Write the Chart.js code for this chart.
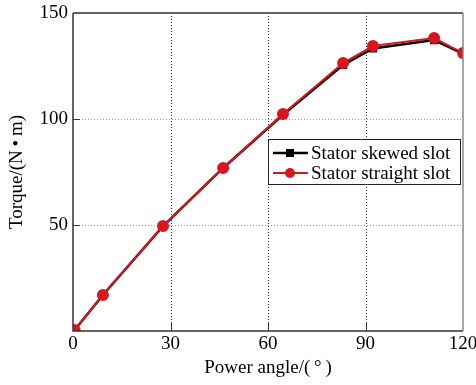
<!DOCTYPE html>
<html>
<head>
<meta charset="utf-8">
<script src="https://cdn.jsdelivr.net/npm/chart.js@4.4.0/dist/chart.umd.min.js"></script>
<style>
  html, body { margin: 0; padding: 0; background: #fff; }
  canvas { display: block; }
</style>
</head>
<body>
<canvas id="torque" width="476" height="385"></canvas>
<script>
// power angle (deg) and torque (N*m)
const angle = [0.5, 9.2, 27.7, 46.2, 64.6, 83.1, 92.3, 111.1, 120];
const skewedTorque = [0.5, 17.0, 49.5, 76.9, 102.0, 125.5, 133.3, 137.2, 130.8];
const straightTorque = [0.5, 17.0, 49.5, 76.9, 102.4, 126.4, 134.4, 138.2, 131.1];
const seriesNames = ['Stator skewed slot', 'Stator straight slot'];

const FONT = 'Liberation Serif, Times New Roman, serif';
const RED = '#d9161f';

const toPoints = ys => angle.map((a, i) => ({ x: a, y: ys[i] }));

// dotted grid behind the lines
const gridPlugin = {
  id: 'dottedGrid',
  beforeDatasetsDraw(chart) {
    const { ctx, chartArea: a, scales } = chart;
    ctx.save();
    ctx.lineWidth = 1;
    ctx.setLineDash([1, 2]);
    ctx.strokeStyle = '#333';
    ctx.beginPath();
    scales.x.ticks.forEach(t => {
      if (t.value <= 0 || t.value >= 120) return;
      const px = Math.round(scales.x.getPixelForValue(t.value)) + 0.5;
      ctx.moveTo(px, a.top); ctx.lineTo(px, a.bottom);
    });
    ctx.stroke();
    ctx.strokeStyle = '#999';
    ctx.beginPath();
    scales.y.ticks.forEach(t => {
      if (t.value <= 0 || t.value >= 150) return;
      const py = Math.round(scales.y.getPixelForValue(t.value)) + 0.5;
      ctx.moveTo(a.left, py); ctx.lineTo(a.right, py);
    });
    ctx.stroke();
    ctx.restore();
  }
};

// frame, inward tick marks and the boxed legend inside the plot
const framePlugin = {
  id: 'frame',
  afterDraw(chart) {
    const { ctx, chartArea: a, scales } = chart;
    ctx.save();
    ctx.lineWidth = 1.5;
    ctx.strokeStyle = '#333';
    ctx.beginPath();
    ctx.moveTo(a.left, a.top); ctx.lineTo(a.right, a.top);
    ctx.moveTo(a.left, a.top); ctx.lineTo(a.left, a.bottom);
    ctx.lineTo(a.right, a.bottom);
    ctx.stroke();
    ctx.strokeStyle = '#888';
    ctx.beginPath();
    ctx.moveTo(a.right, a.top); ctx.lineTo(a.right, a.bottom);
    ctx.stroke();

    ctx.strokeStyle = '#333';
    ctx.lineWidth = 1;
    ctx.beginPath();
    scales.x.ticks.forEach(t => {
      if (t.value <= 0 || t.value >= 120) return;
      const px = Math.round(scales.x.getPixelForValue(t.value)) + 0.5;
      ctx.moveTo(px, a.bottom); ctx.lineTo(px, a.bottom - 9);
    });
    scales.y.ticks.forEach(t => {
      if (t.value <= 0 || t.value >= 150) return;
      const py = Math.round(scales.y.getPixelForValue(t.value)) + 0.5;
      ctx.moveTo(a.left, py); ctx.lineTo(a.left + 7, py);
    });
    ctx.stroke();

    // legend
    const bw = 192, bh = 45;
    const bx = a.right - 3 - bw, by = a.top + 126;
    ctx.fillStyle = '#fff';
    ctx.fillRect(bx, by, bw, bh);
    ctx.strokeStyle = '#222';
    ctx.lineWidth = 1;
    ctx.strokeRect(bx + 0.5, by + 0.5, bw, bh);
    const order = [1, 0];
    chart.data.datasets.forEach((ds, i) => {
      const row = order[i];
      const y = by + 14 + row * 20;
      ctx.strokeStyle = ds.borderColor;
      ctx.lineWidth = ds.borderWidth;
      ctx.beginPath();
      ctx.moveTo(bx + 5, y); ctx.lineTo(bx + 40, y);
      ctx.stroke();
      ctx.fillStyle = ds.pointBackgroundColor;
      ctx.beginPath();
      if (ds.pointStyle === 'rect') {
        ctx.rect(bx + 18, y - 4, 8, 8);
      } else {
        ctx.arc(bx + 22, y, 5, 0, Math.PI * 2);
      }
      ctx.fill();
      ctx.fillStyle = '#000';
      ctx.font = '19px ' + FONT;
      ctx.textBaseline = 'middle';
      ctx.fillText(ds.label, bx + 43, y + 1);
    });
    ctx.restore();
  }
};

new Chart(document.getElementById('torque').getContext('2d'), {
  type: 'line',
  data: {
    datasets: [
      {
        label: seriesNames[1],
        data: toPoints(straightTorque),
        borderColor: RED,
        backgroundColor: RED,
        pointBackgroundColor: RED,
        pointBorderColor: RED,
        borderWidth: 2,
        pointStyle: 'circle',
        pointRadius: 5,
        order: 0
      },
      {
        label: seriesNames[0],
        data: toPoints(skewedTorque),
        borderColor: '#000',
        backgroundColor: '#000',
        pointBackgroundColor: '#000',
        pointBorderColor: '#000',
        borderWidth: 2.5,
        pointStyle: 'rect',
        pointRadius: 4,
        order: 1
      }
    ]
  },
  options: {
    responsive: false,
    animation: false,
    layout: { padding: { left: 0, right: 13, top: 13, bottom: 0 } },
    plugins: { legend: { display: false }, tooltip: { enabled: false } },
    scales: {
      x: {
        type: 'linear',
        min: 0,
        max: 120,
        afterFit: s => { s.height = 54; s.paddingLeft = 0; s.paddingRight = 0; },
        ticks: { stepSize: 30, color: '#000', padding: 2, font: { family: FONT, size: 19 } },
        grid: { display: false, drawTicks: false },
        border: { display: false },
        title: {
          display: true,
          text: 'Power angle/(\u2009°\u2009)',
          color: '#000',
          font: { family: FONT, size: 19 },
          padding: { top: 0, bottom: 6 }
        }
      },
      y: {
        min: 0,
        max: 150,
        afterFit: s => { s.width = 73; s.paddingTop = 0; s.paddingBottom = 0; },
        ticks: {
          stepSize: 50,
          color: '#000',
          padding: 5,
          font: { family: FONT, size: 19 },
          callback: v => v === 0 ? '' : v
        },
        grid: { display: false, drawTicks: false },
        border: { display: false },
        title: {
          display: true,
          text: 'Torque/(N\u2009•\u2009m)',
          color: '#000',
          font: { family: FONT, size: 19 },
          padding: { top: 6, bottom: 0 }
        }
      }
    }
  },
  plugins: [gridPlugin, framePlugin]
});
</script>
</body>
</html>
